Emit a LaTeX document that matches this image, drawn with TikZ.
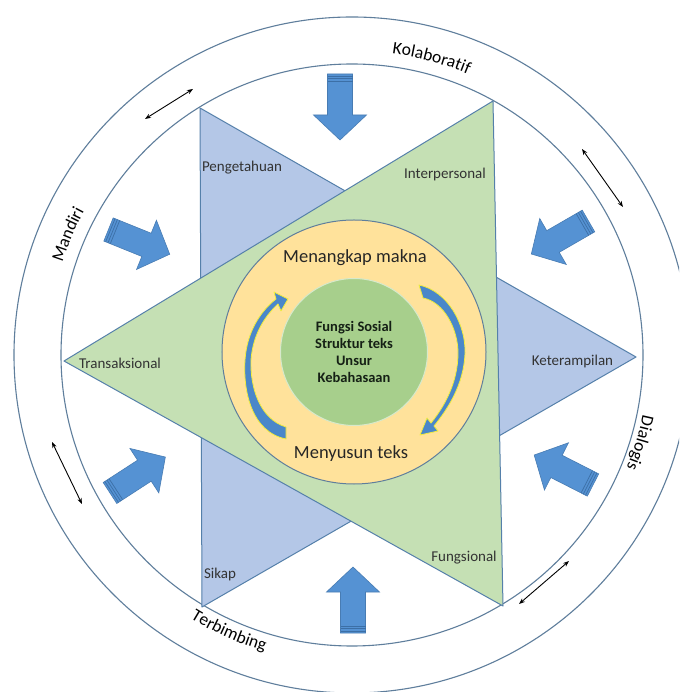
\documentclass[tikz,border=0pt]{standalone}
\usepackage{fontspec}
\setmainfont{Carlito}
\usetikzlibrary{decorations.text, arrows.meta}

\definecolor{ringline}{HTML}{5F7E9C}
\definecolor{triline}{HTML}{5580AA}
\definecolor{gtri}{HTML}{C5E0B4}
\definecolor{btri}{HTML}{B4C7E7}
\definecolor{yellowc}{HTML}{FFE29B}
\definecolor{greenc}{HTML}{A7CF8C}
\definecolor{barrow}{HTML}{5592D3}
\definecolor{barrowdk}{HTML}{3C6FA6}
\definecolor{carrow}{HTML}{4A87C9}
\definecolor{glow}{HTML}{F4EE3C}
\definecolor{txt}{HTML}{333333}
\definecolor{coretxt}{HTML}{152015}

\tikzset{
  blockarr/.pic={
    \filldraw[fill=barrow, draw=barrow!85!black, line width=0.6pt, line join=miter]
      (0,-12.5) -- (41,-12.5) -- (41,-26.5) -- (66,0) -- (41,26.5) -- (41,12.5) -- (0,12.5) -- cycle;
    \foreach \d in {2,4.5,7} \draw[barrowdk, line width=0.7pt] (\d,-12.5) -- (\d,12.5);
  },
  ringc/.style={draw=ringline, line width=1.1pt},
  tri/.style={draw=triline, line width=1pt, line join=round},
  tlabel/.style={text=txt, font=\fontsize{15}{18}\selectfont, inner sep=0pt},
  midlabel/.style={text=black!85, font=\fontsize{18.5}{22}\selectfont, inner sep=0pt},
  dbl/.style={{Stealth[length=6pt,width=4.5pt]}-{Stealth[length=6pt,width=4.5pt]}, line width=0.9pt, black},
  ringtext/.style={decorate, decoration={text along path, text align=center, text color=black,
    text={|\fontsize{17.5}{20}\selectfont|#1}}},
  crescent/.style={fill=carrow, draw=glow, line width=0.8pt, line join=round}
}

\begin{document}
\begin{tikzpicture}[x=1pt,y=1pt]
\useasboundingbox (-352,-337) rectangle (327,355);
\fill[white] (-352,-337) rectangle (327,355);
\clip (-352,-337) rectangle (327,355);

% rings
\draw[ringc] (0,0) circle[radius=338];
\draw[ringc] (0,0) circle[radius=291];

% triangles
\coordinate (B1) at (-152,247);
\coordinate (B2) at (284,-2);
\coordinate (B3) at (-150,-252);
\coordinate (G1) at (141,254);
\coordinate (G2) at (-288,-6);
\coordinate (G3) at (151,-251);
\filldraw[tri, fill=btri] (B1) -- (B2) -- (B3) -- cycle;
\filldraw[tri, fill=gtri] (G1) -- (G2) -- (G3) -- cycle;

% central circles
\filldraw[draw=ringline, line width=1pt, fill=yellowc] (2,3) circle[radius=132];
\filldraw[draw=white!55!greenc, line width=1pt, fill=greenc] (2,3) circle[radius=73.5];

% curved arrows
\path[crescent] (-66,-72) -- (-66,-84)
  .. controls (-101,-77) and (-109,-35) .. (-107,-5)
  .. controls (-105,25) and (-90,45) .. (-76,56)
  -- (-78,63) -- (-64,56) -- (-71,44) -- (-74,51)
  .. controls (-86,40) and (-99,22) .. (-101,-5)
  .. controls (-102,-33) and (-92,-64) .. (-66,-72) -- cycle;
\path[crescent] (67,70)
  .. controls (96,64) and (114,30) .. (113,2)
  .. controls (112,-30) and (95,-55) .. (82,-71)
  -- (86,-76) -- (68,-80) -- (75,-63) -- (79,-68)
  .. controls (92,-52) and (106,-28) .. (106,2)
  .. controls (106,26) and (92,53) .. (71,57) -- cycle;

% block arrows
\pic[rotate=-90] at (-12,281) {blockarr};
\pic[rotate=210] at (236.5,134) {blockarr};
\pic[rotate=153] at (241,-130) {blockarr};
\pic[rotate=90] at (1,-278) {blockarr};
\pic[rotate=33] at (-242,-138) {blockarr};
\pic[rotate=-22] at (-243.5,125.5) {blockarr};

% double arrows
\coordinate (d1a) at (-207,236); \coordinate (d1b) at (-159,266);
\coordinate (d2a) at (230,206);  \coordinate (d2b) at (271,148);
\coordinate (d3a) at (-300,-87); \coordinate (d3b) at (-270,-149);
\coordinate (d4a) at (167,-249); \coordinate (d4b) at (217,-206);
\draw[dbl] (d1a) -- (d1b);
\draw[dbl] (d2a) -- (d2b);
\draw[dbl] (d3a) -- (d3b);
\draw[dbl] (d4a) -- (d4b);

% ring labels
\path[ringtext=Kolaboratif] (102:304) arc[start angle=102, end angle=48, radius=304];
\path[ringtext=Mandiri] (184:304) arc[start angle=184, end angle=130, radius=304];
\path[ringtext=Dialogis] (10:297) arc[start angle=10, end angle=-44, radius=297];
\path[ringtext=Terbimbing] (-142:309) arc[start angle=-142, end angle=-86, radius=309];

% triangle labels
\node[tlabel] (peng) at (-110,187) {Pengetahuan};
\node[tlabel] (inter) at (93,180.5) {Interpersonal};
\node[tlabel] (trans) at (-232,-8.5) {Transaksional};
\node[tlabel] (ketr) at (220.5,-6.5) {Keterampilan};
\node[tlabel] (sikap) at (-132,-219) {Sikap};
\node[tlabel] (fungs) at (112,-202.5) {Fungsional};

% middle labels
\node[midlabel] (tangkap) at (3,97) {Menangkap makna};
\node[midlabel] (susun) at (-1,-98.5) {Menyusun teks};
\node[align=center, inner sep=0pt, text=coretxt, font=\fontsize{14.5}{17}\selectfont\bfseries] (core) at (2,3)
  {Fungsi Sosial\\Struktur teks\\Unsur\\Kebahasaan};
\end{tikzpicture}
\end{document}
